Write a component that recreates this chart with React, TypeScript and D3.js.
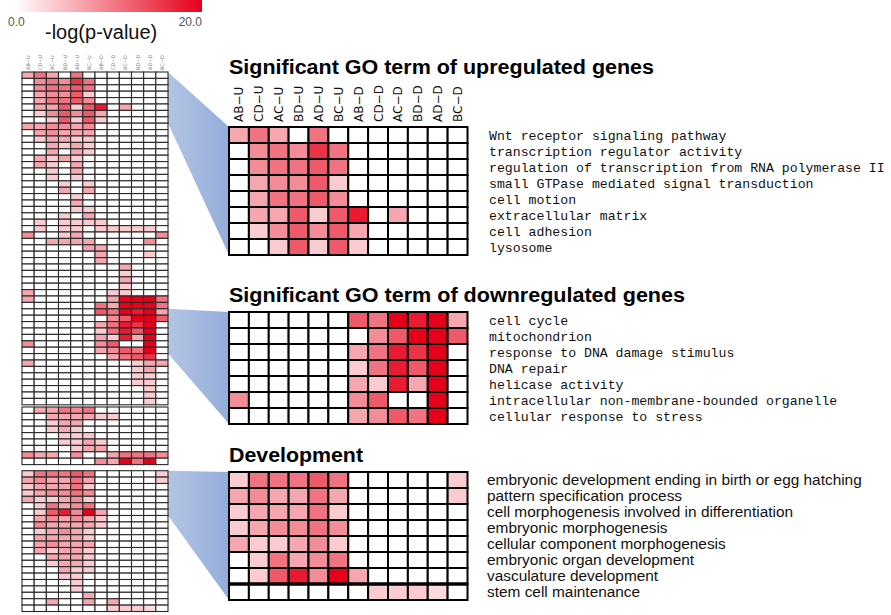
import React from "react";
import * as d3 from "d3";

// Column (comparison) labels
const COLUMNS = ["AB−U", "CD−U", "AC−U", "BD−U", "AD−U", "BC−U", "AB−D", "CD−D", "AC−D", "BD−D", "AD−D", "BC−D"];

// -log(p-value) values, overview heatmap, block 1 (52 GO terms)
const BLOCK1: number[][] = [
  [7, 11, 7, 0, 11, 0, 0, 0, 0, 0, 0, 0],
  [0, 9, 11, 9, 16, 11, 0, 0, 0, 0, 0, 0],
  [0, 9, 11, 11, 13, 11, 0, 0, 0, 0, 0, 0],
  [0, 7, 9, 9, 13, 4, 0, 0, 0, 0, 0, 0],
  [0, 7, 11, 11, 13, 9, 0, 0, 0, 0, 0, 0],
  [0, 7, 7, 13, 4, 13, 18, 0, 7, 0, 0, 0],
  [0, 4, 9, 13, 9, 13, 7, 0, 0, 0, 0, 0],
  [0, 0, 4, 13, 4, 13, 4, 0, 0, 0, 0, 0],
  [7, 7, 9, 9, 7, 9, 0, 0, 0, 0, 0, 0],
  [0, 7, 9, 7, 7, 7, 0, 0, 0, 0, 0, 0],
  [0, 4, 7, 7, 4, 4, 0, 0, 0, 0, 0, 0],
  [0, 0, 7, 4, 7, 4, 0, 0, 0, 0, 0, 0],
  [0, 0, 7, 0, 7, 4, 0, 0, 0, 0, 0, 0],
  [0, 7, 4, 7, 4, 0, 0, 0, 0, 0, 0, 0],
  [0, 7, 4, 0, 7, 0, 0, 0, 0, 0, 0, 0],
  [0, 0, 4, 0, 7, 0, 0, 0, 0, 0, 0, 0],
  [0, 0, 4, 0, 4, 0, 0, 0, 0, 0, 0, 0],
  [0, 0, 0, 4, 0, 4, 0, 0, 0, 0, 0, 0],
  [0, 0, 0, 7, 0, 7, 0, 0, 0, 0, 0, 0],
  [0, 0, 0, 0, 4, 0, 0, 0, 0, 0, 0, 0],
  [0, 0, 0, 0, 7, 0, 0, 0, 0, 0, 0, 0],
  [0, 0, 0, 0, 4, 4, 0, 0, 0, 0, 0, 0],
  [0, 0, 0, 4, 0, 7, 0, 0, 0, 0, 0, 0],
  [0, 4, 0, 4, 4, 4, 4, 0, 0, 0, 0, 0],
  [0, 4, 0, 4, 4, 0, 4, 4, 4, 4, 4, 0],
  [9, 0, 0, 4, 7, 0, 0, 0, 0, 0, 0, 9],
  [0, 0, 7, 7, 7, 7, 0, 0, 0, 0, 9, 0],
  [0, 0, 0, 0, 0, 7, 7, 0, 0, 0, 0, 0],
  [0, 0, 0, 0, 0, 0, 7, 0, 0, 0, 4, 0],
  [0, 0, 0, 0, 0, 0, 7, 0, 0, 0, 0, 0],
  [0, 0, 0, 0, 0, 0, 0, 0, 7, 0, 0, 0],
  [0, 0, 0, 0, 0, 0, 0, 0, 4, 0, 0, 0],
  [0, 0, 0, 0, 0, 0, 0, 0, 7, 0, 0, 0],
  [0, 0, 0, 0, 0, 0, 0, 0, 4, 0, 0, 0],
  [7, 0, 0, 0, 0, 0, 0, 4, 4, 0, 0, 0],
  [7, 0, 0, 0, 0, 0, 0, 7, 20, 20, 20, 11],
  [0, 0, 0, 0, 0, 0, 11, 7, 20, 20, 20, 11],
  [0, 0, 0, 0, 0, 0, 13, 11, 20, 18, 20, 7],
  [0, 0, 0, 0, 0, 0, 0, 9, 13, 20, 20, 13],
  [0, 0, 0, 0, 0, 0, 7, 11, 18, 16, 20, 0],
  [0, 0, 0, 0, 0, 0, 4, 11, 18, 13, 20, 0],
  [0, 0, 0, 0, 0, 0, 7, 4, 18, 7, 20, 0],
  [9, 0, 0, 0, 0, 0, 9, 13, 0, 0, 20, 0],
  [0, 0, 0, 0, 0, 0, 7, 9, 13, 11, 20, 0],
  [0, 0, 0, 0, 0, 0, 0, 7, 11, 13, 16, 0],
  [7, 0, 0, 0, 0, 0, 0, 0, 0, 4, 7, 7],
  [0, 0, 0, 0, 0, 0, 0, 0, 0, 4, 7, 0],
  [0, 0, 0, 0, 0, 0, 0, 0, 0, 4, 4, 0],
  [0, 0, 0, 0, 0, 0, 0, 0, 0, 4, 4, 0],
  [0, 0, 0, 0, 0, 0, 0, 0, 0, 0, 4, 0],
  [0, 0, 0, 0, 0, 0, 0, 0, 0, 0, 4, 0],
  [0, 0, 0, 0, 0, 0, 0, 0, 0, 0, 4, 0],
];

// block 2 (9 GO terms)
const BLOCK2: number[][] = [
  [0, 7, 7, 11, 9, 11, 0, 0, 0, 0, 0, 0],
  [0, 0, 7, 7, 7, 7, 4, 4, 0, 0, 0, 0],
  [0, 0, 4, 7, 7, 0, 0, 0, 0, 0, 0, 0],
  [0, 0, 4, 7, 4, 0, 0, 0, 0, 0, 0, 0],
  [0, 0, 0, 4, 4, 4, 0, 0, 0, 0, 0, 0],
  [0, 0, 0, 4, 4, 7, 4, 0, 0, 0, 0, 0],
  [0, 0, 0, 0, 4, 7, 7, 0, 0, 0, 0, 0],
  [9, 7, 7, 0, 9, 0, 0, 7, 11, 11, 11, 9],
  [0, 0, 0, 0, 0, 0, 9, 7, 20, 11, 20, 0],
];

// block 3 (22 GO terms, development)
const BLOCK3: number[][] = [
  [4, 11, 11, 11, 13, 11, 0, 0, 0, 0, 0, 4],
  [7, 9, 7, 7, 11, 7, 0, 0, 0, 0, 0, 4],
  [4, 7, 7, 7, 11, 4, 0, 0, 0, 0, 0, 0],
  [4, 7, 9, 9, 11, 9, 0, 0, 0, 0, 0, 0],
  [7, 4, 4, 7, 9, 4, 0, 0, 0, 0, 0, 0],
  [0, 4, 11, 7, 9, 11, 0, 0, 0, 0, 0, 0],
  [0, 4, 13, 18, 9, 20, 7, 0, 0, 0, 0, 0],
  [0, 7, 9, 7, 9, 7, 4, 0, 0, 0, 0, 0],
  [0, 9, 7, 7, 7, 7, 4, 0, 0, 0, 0, 0],
  [0, 4, 7, 9, 7, 4, 0, 0, 0, 0, 0, 0],
  [0, 7, 7, 7, 7, 4, 0, 0, 0, 0, 0, 0],
  [0, 7, 9, 7, 7, 7, 0, 0, 0, 0, 0, 0],
  [0, 7, 4, 7, 7, 4, 0, 0, 0, 0, 0, 0],
  [0, 0, 7, 7, 7, 4, 0, 0, 0, 0, 0, 0],
  [0, 0, 4, 7, 7, 4, 0, 0, 0, 0, 0, 0],
  [0, 0, 0, 7, 4, 4, 0, 0, 0, 0, 0, 0],
  [0, 0, 0, 4, 4, 0, 0, 0, 0, 0, 0, 0],
  [0, 0, 0, 0, 4, 0, 0, 0, 0, 0, 0, 0],
  [0, 0, 0, 0, 4, 0, 0, 0, 0, 0, 0, 0],
  [0, 0, 0, 0, 0, 7, 0, 0, 0, 0, 0, 0],
  [0, 0, 7, 0, 0, 7, 0, 7, 0, 0, 0, 0],
  [0, 0, 0, 0, 0, 0, 0, 4, 4, 4, 3, 0],
];

// Detail panels: which overview rows they enlarge, and their GO term labels
const UP_ROWS = [0, 1, 2, 3, 4, 5, 6, 7];
const UP_LABELS = [
  "Wnt receptor signaling pathway",
  "transcription regulator activity",
  "regulation of transcription from RNA polymerase II",
  "small GTPase mediated signal transduction",
  "cell motion",
  "extracellular matrix",
  "cell adhesion",
  "lysosome",
];
const DOWN_ROWS = [37, 38, 39, 40, 41, 42, 43];
const DOWN_LABELS = [
  "cell cycle",
  "mitochondrion",
  "response to DNA damage stimulus",
  "DNA repair",
  "helicase activity",
  "intracellular non-membrane-bounded organelle",
  "cellular response to stress",
];
const DEV_ROWS = [0, 1, 2, 3, 4, 5, 6, 21];
const DEV_LABELS = [
  "embryonic development ending in birth or egg hatching",
  "pattern specification process",
  "cell morphogenesis involved in differentiation",
  "embryonic morphogenesis",
  "cellular component morphogenesis",
  "embryonic organ development",
  "vasculature development",
  "stem cell maintenance",
];

const TITLES = ["Significant GO term of upregulated genes", "Significant GO term of downregulated genes", "Development"];
const LEGEND_DOMAIN = [0, 20];
const LEGEND_LABELS = ["0.0", "20.0"];

const RED = "#e6001a";
const WEDGE = "#93acd9";

export default function App() {
  const color = d3.scaleLinear<string>().domain(LEGEND_DOMAIN).range(["#ffffff", RED]).clamp(true);

  // overview geometry
  const lx = d3.scaleBand<number>().domain(d3.range(12)).range([22, 168]);
  const LROW = 6.4;
  const blocks = [
    { data: BLOCK1, y0: 72 },
    { data: BLOCK2, y0: 407 },
    { data: BLOCK3, y0: 470.7 },
  ];

  // panel geometry
  const px = d3.scaleBand<number>().domain(d3.range(12)).range([229, 467.5]);
  const PROW = 16;
  const panels = [
    { src: BLOCK1, rows: UP_ROWS, labels: UP_LABELS, y0: 127, title: TITLES[0], titleW: 425, titleY: 74, block: 0, mono: true, cols: true },
    { src: BLOCK1, rows: DOWN_ROWS, labels: DOWN_LABELS, y0: 312, title: TITLES[1], titleW: 456, titleY: 302, block: 0, mono: true, cols: false },
    { src: BLOCK3, rows: DEV_ROWS, labels: DEV_LABELS, y0: 472, title: TITLES[2], titleW: 134, titleY: 462, block: 2, mono: false, cols: false },
  ];

  return (
    <svg width={891} height={615} style={{ position: "absolute", left: 0, top: 0, background: "#fff" }}>
      <defs>
        <linearGradient id="lg" x1="0" x2="1" y1="0" y2="0">
          <stop offset="0%" stopColor={color(0)} />
          <stop offset="100%" stopColor={color(20)} />
        </linearGradient>
        <linearGradient id="wg" x1="0" x2="1" y1="0" y2="0">
          <stop offset="0%" stopColor={WEDGE} stopOpacity={0.7} />
          <stop offset="100%" stopColor={WEDGE} stopOpacity={1} />
        </linearGradient>
      </defs>

      {/* legend */}
      <rect x={15} y={0} width={187} height={12} fill="url(#lg)" />
      <text x={8} y={26} fontFamily="Liberation Sans, Arial" fontSize={12} fill="#555">{LEGEND_LABELS[0]}</text>
      <text x={202} y={26} fontFamily="Liberation Sans, Arial" fontSize={12} fill="#555" textAnchor="end">{LEGEND_LABELS[1]}</text>
      <text x={45} y={39} fontFamily="Liberation Sans, Arial" fontSize={20} fill="#111">-log(p-value)</text>

      {/* wedges */}
      {panels.map((p, i) => {
        const b = blocks[p.block];
        const first = p.rows[0];
        const last = p.block === 2 ? 6 : p.rows[p.rows.length - 1];
        const ly0 = b.y0 + first * LROW;
        const ly1 = b.y0 + (last + 1) * LROW;
        const ry0 = p.y0;
        const ry1 = p.y0 + p.rows.length * PROW;
        return <polygon key={"w" + i} points={`168,${ly0} 229,${ry0} 229,${ry1} 168,${ly1}`} fill="url(#wg)" />;
      })}

      {/* overview column labels */}
      {COLUMNS.map((c, j) => (
        <text key={"lc" + j} transform={`translate(${(lx(j) as number) + lx.bandwidth() / 2 + 2},70) rotate(-90)`} fontFamily="DejaVu Sans" fontSize={5} fill="#777">{c}</text>
      ))}

      {/* overview heatmap */}
      {blocks.map((b, bi) => (
        <g key={"b" + bi}>
          {b.data.map((row, i) =>
            row.map((v, j) => (
              <rect key={i + "-" + j} x={lx(j)} y={b.y0 + i * LROW} width={lx.bandwidth()} height={LROW} fill={color(v)} stroke="#2a2a2a" strokeWidth={1.1} />
            ))
          )}
        </g>
      ))}

      {/* detail panels */}
      {panels.map((p, pi) => (
        <g key={"p" + pi}>
          <text x={229} y={p.titleY} fontFamily="Liberation Sans, Arial" fontWeight="bold" fontSize={20} textLength={p.titleW} lengthAdjust="spacingAndGlyphs">{p.title}</text>
          {p.cols && COLUMNS.map((c, j) => (
            <text key={"pc" + j} transform={`translate(${(px(j) as number) + px.bandwidth() / 2 + 4.5},122) rotate(-90)`} fontFamily="DejaVu Sans" fontSize={12} fill="#111">{c}</text>
          ))}
          {p.rows.map((r, i) =>
            p.src[r].map((v, j) => (
              <rect key={i + "-" + j} x={px(j)} y={p.y0 + i * PROW} width={px.bandwidth()} height={PROW} fill={color(v)} stroke="#000" strokeWidth={2} />
            ))
          )}
          {p.labels.map((l, i) => (
            <text key={"l" + i} x={p.mono ? 489 : 487} y={p.y0 + i * PROW + 13}
              fontFamily={p.mono ? "Liberation Mono, monospace" : "Liberation Sans, Arial"} fontSize={p.mono ? 13.2 : 15.4} fill="#111">{l}</text>
          ))}
        </g>
      ))}
      <line x1={229} x2={467.5} y1={472 + 7 * PROW} y2={472 + 7 * PROW} stroke="#000" strokeWidth={3.5} />
    </svg>
  );
}
